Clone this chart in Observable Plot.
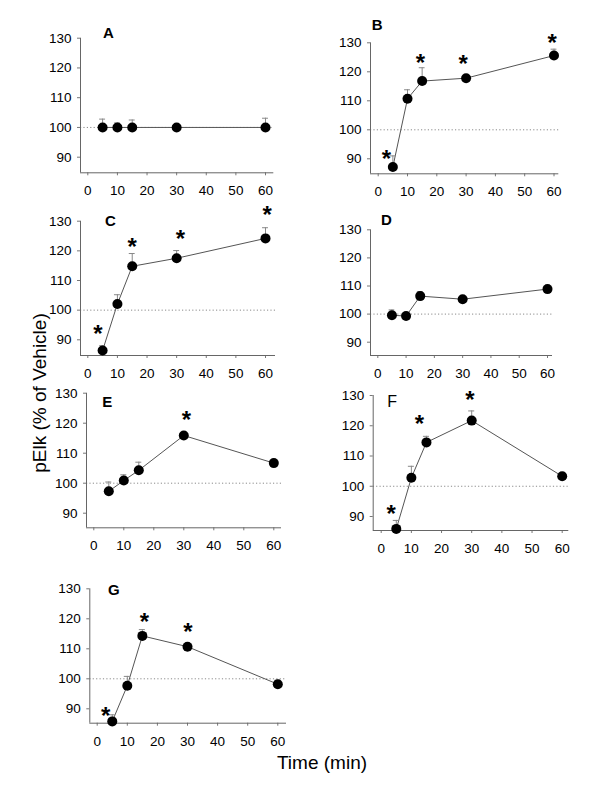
<!DOCTYPE html>
<html><head><meta charset="utf-8">
<script src="https://cdn.jsdelivr.net/npm/d3@7"></script>
<script src="https://cdn.jsdelivr.net/npm/@observablehq/plot@0.6"></script>
<style>
html,body{margin:0;padding:0;background:#fff;overflow:hidden}
#chart{position:relative;width:600px;height:800px;font-family:"Liberation Sans",Arial,sans-serif;color:#000}
#chart svg{position:absolute;left:0;top:0}
.lab{position:absolute;white-space:nowrap;font-size:19px;line-height:1;transform:translate(-50%,-50%)}
.lab.rot{transform:translate(-50%,-50%) rotate(-90deg)}
</style></head><body><div id="chart"></div>
<script>
// ---- data ----
const times = [5, 10, 15, 30, 60];
const xTicks = [0, 10, 20, 30, 40, 50, 60];
const yTicks = [90, 100, 110, 120, 130];
const yTitle = "pElk (% of Vehicle)";
const xTitle = "Time (min)";

const meanA = [100, 100, 100, 100, 100];
const errA  = [102.8, 101.5, 102.5, 100.3, 103.1];
const starXA = [], starYA = [];

const meanB = [87.2, 110.7, 116.8, 117.8, 125.6];
const errB  = [91, 113.8, 121.4, 118.5, 127.8];
const starXB = [2.8, 14.4, 29, 59.4];
const starYB = [91.8, 124.8, 124.5, 131.7];

const meanC = [86.4, 102.1, 114.8, 117.5, 124.2];
const errC  = [88, 105.2, 119.1, 120.1, 127.8];
const starXC = [3.4, 15, 31.3, 60.6];
const starYC = [93.7, 123.1, 125.7, 133.8];

const meanD = [99.6, 99.3, 106.4, 105.3, 108.9];
const errD  = [101.5, 100.2, 108, 105.8, 109.5];
const starXD = [], starYD = [];

const meanE = [97.3, 100.9, 104.3, 115.9, 106.7];
const errE  = [100.4, 102.8, 107, 116.3, 107];
const starXE = [30.9];
const starYE = [122.9];

const meanF = [85.9, 102.8, 114.5, 121.7, 103.3];
const errF  = [88.7, 106.6, 116.5, 124.9, 103.8];
const starXF = [3.3, 12.7, 29.4];
const starYF = [92.5, 122.3, 130.2];

const meanG = [85.8, 97.7, 114.3, 110.7, 98.2];
const errG  = [88, 100.8, 116.4, 111, 99.5];
const starXG = [2.8, 15.7, 30.1];
const starYG = [89.4, 120.5, 117.4];

const panelNames = ["A", "B", "C", "D", "E", "F", "G"];
const seriesMap = {
  A: [meanA, errA, starXA, starYA], B: [meanB, errB, starXB, starYB],
  C: [meanC, errC, starXC, starYC], D: [meanD, errD, starXD, starYD],
  E: [meanE, errE, starXE, starYE], F: [meanF, errF, starXF, starYF],
  G: [meanG, errG, starXG, starYG]
};

// ---- layout (page pixels) ----
const layout = {
  A: {left: 80,    right: 273.3, top: 37.7,  bottom: 172.3, x0: 87.3,  x60: 265,   y90: 156.7, ldx: 28,   ldy: -4.7,  bold: true},
  B: {left: 370,   right: 558.3, top: 42.3,  bottom: 173.3, x0: 377.7, x60: 553.5, y90: 158.3, ldx: 6.7,  ldy: -17.3, bold: true},
  C: {left: 80,    right: 275,   top: 220.7, bottom: 355,   x0: 87.3,  x60: 265,   y90: 339.3, ldx: 30,   ldy: 0,     bold: true},
  D: {left: 370,   right: 552,   top: 229.3, bottom: 355,   x0: 377.3, x60: 547,   y90: 341.7, ldx: 16,   ldy: -10,   bold: true},
  E: {left: 86,    right: 281,   top: 392.7, bottom: 527.3, x0: 93.3,  x60: 273.3, y90: 512.7, ldx: 20.7, ldy: 9,     bold: true},
  F: {left: 372.7, right: 568.3, top: 395,   bottom: 530,   x0: 380.7, x60: 561.7, y90: 516,   ldx: 19,   ldy: 6,     bold: false},
  G: {left: 89.3,  right: 286,   top: 588.3, bottom: 722.7, x0: 96.7,  x60: 277.3, y90: 708.3, ldx: 24,   ldy: 1,     bold: true}
};

const chart = document.getElementById("chart");

for (const name of panelNames) {
  const L = layout[name];
  const [mean, err, sx, sy] = seriesMap[name];
  const kx = (L.x60 - L.x0) / 60;
  const xDom = [(L.left - L.x0) / kx, (L.right - L.x0) / kx];
  const ky = (L.y90 - L.top) / 40;
  const yDom = [130 - (L.bottom - L.top) / ky, 130];
  const pts = times.map((t, i) => ({t, v: mean[i], e: err[i]}));
  const stars = sx.map((x, i) => ({x, y: sy[i]}));

  const svg = Plot.plot({
    width: 600, height: 800,
    marginLeft: L.left, marginRight: 600 - L.right,
    marginTop: L.top, marginBottom: 800 - L.bottom,
    x: {domain: xDom},
    y: {domain: yDom},
    style: {background: "transparent", overflow: "visible", fontFamily: '"Liberation Sans", Arial, sans-serif', fontSize: "13.5px", color: "#000"},
    marks: [
      Plot.ruleY([100], {stroke: "#8a8a8a", strokeDasharray: "1.2,2.2", strokeWidth: 1}),
      Plot.axisX({ticks: xTicks, tickSize: 3, tickPadding: 10, stroke: "#777", fill: "#000", label: null, tickFormat: d => d}),
      Plot.axisY({ticks: yTicks, tickSize: 3, tickPadding: 6, stroke: "#777", fill: "#000", label: null, tickFormat: d => d}),
      Plot.ruleX([xDom[0]], {stroke: "#666"}),
      Plot.ruleY([yDom[0]], {stroke: "#666"}),
      Plot.line(pts, {x: "t", y: "v", stroke: "#555", strokeWidth: 1}),
      Plot.ruleX(pts, {x: "t", y1: "v", y2: "e", stroke: "#888"}),
      Plot.ruleY(pts, {y: "e", x1: d => d.t - 1, x2: d => d.t + 1, stroke: "#888"}),
      Plot.dot(pts, {x: "t", y: "v", r: 5, fill: "#000", stroke: "none"}),
      Plot.text(stars, {x: "x", y: "y", text: () => "*", fontSize: 24, fontWeight: "bold", lineAnchor: "bottom", dy: 13, fill: "#000"}),
      Plot.text([name], {frameAnchor: "top-left", text: d => d, dx: L.ldx, dy: L.ldy, textAnchor: "middle", lineAnchor: "middle",
        fontSize: L.bold ? 15 : 16, fontWeight: L.bold ? "bold" : "normal", fill: "#000"})
    ]
  });
  chart.appendChild(svg);
}

const yl = document.createElement("div");
yl.className = "lab rot";
yl.style.left = "39px"; yl.style.top = "393px";
yl.textContent = yTitle;
chart.appendChild(yl);

const xl = document.createElement("div");
xl.className = "lab";
xl.style.left = "322px"; xl.style.top = "762px";
xl.textContent = xTitle;
chart.appendChild(xl);
</script>
</body></html>
